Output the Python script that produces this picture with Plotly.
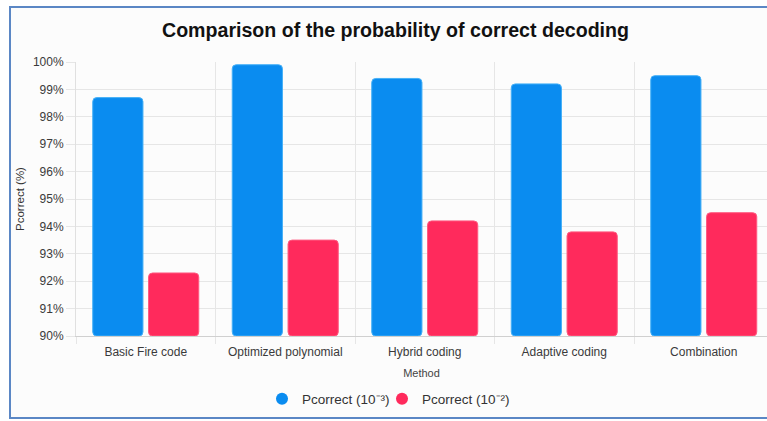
import plotly.graph_objects as go

methods = ["Basic Fire code", "Optimized polynomial", "Hybrid coding", "Adaptive coding", "Combination"]
p_1e3 = [98.7, 99.9, 99.4, 99.2, 99.5]
p_1e2 = [92.3, 93.5, 94.2, 93.8, 94.5]
series_names = ["Pcorrect (10⁻³)", "Pcorrect (10⁻²)"]
y_ticks = [90, 91, 92, 93, 94, 95, 96, 97, 98, 99, 100]
y_tick_labels = [f"{v}%" for v in y_ticks]

blue = "#0a8cf0"
red = "#ff2a5c"
font_family = "Liberation Sans, Arial, sans-serif"

W, H = 767, 421
ml, mr, mt, mb = 76, 0, 62, 85
pw = W - ml - mr
ph = H - mt - mb
cat_w = 139.5  # pixel width of one category slot
x_hi = -0.5 + pw / cat_w  # the last slot runs past the right edge


def px_x(x):
    return (x - ml) / pw


def px_y(y):
    return (H - mb - y) / ph


fig = go.Figure()
fig.add_trace(go.Bar(
    x=methods, y=[v - 90 for v in p_1e3], base=90, name=series_names[0],
    marker=dict(color=blue, line=dict(color="#45b0f7", width=1), cornerradius=4),
    showlegend=False,
))
fig.add_trace(go.Bar(
    x=methods, y=[v - 90 for v in p_1e2], base=90, name=series_names[1],
    marker=dict(color=red, line=dict(color="#ff5a80", width=1), cornerradius=4),
    showlegend=False,
))
# circular legend markers, one small legend per series
for name, col, leg in zip(series_names, [blue, red], ["legend", "legend2"]):
    fig.add_trace(go.Scatter(
        x=[None], y=[None], mode="markers", name=name, legend=leg,
        marker=dict(symbol="circle", size=13, color=col),
    ))

legend_style = dict(
    orientation="h", xanchor="left", xref="paper",
    y=px_y(399), yanchor="middle",
    font=dict(size=13.5, color="#333", family=font_family),
    itemsizing="constant", itemwidth=30,
    bgcolor="rgba(0,0,0,0)",
)

fig.update_layout(
    width=W, height=H,
    margin=dict(l=ml, r=mr, t=mt, b=mb),
    paper_bgcolor="white",
    plot_bgcolor="rgba(0,0,0,0)",
    barmode="group", bargap=0.2, bargroupgap=0.1,
    font=dict(family=font_family, color="#444", size=12),
    title=dict(
        text="<b>Comparison of the probability of correct decoding</b>",
        x=px_x(395.5), xref="paper", xanchor="center",
        y=1 - 30.5 / H, yref="container", yanchor="middle",
        font=dict(size=19.6, color="#111", family=font_family),
    ),
    xaxis=dict(
        range=[-0.5, x_hi],
        tickson="boundaries", showgrid=True, gridcolor="#e6e6e6", gridwidth=1,
        ticks="outside", ticklen=7, tickcolor="#e6e6e6",
        ticklabelstandoff=5,
        showline=True, linecolor="#d0d0d0", linewidth=1,
        tickfont=dict(size=12, color="#3a3a3a"),
        title=dict(text="Method", font=dict(size=11, color="#444"), standoff=10),
    ),
    yaxis=dict(
        range=[90, 100], tickvals=y_ticks, ticktext=y_tick_labels,
        showgrid=True, gridcolor="#e6e6e6", gridwidth=1,
        ticks="outside", ticklen=9, tickcolor="#e6e6e6",
        showline=True, linecolor="#e0e0e0", linewidth=1,
        zeroline=False,
        tickfont=dict(size=12, color="#3a3a3a"),
        title=dict(text="Pcorrect (%)", font=dict(size=11.5, color="#333"), standoff=5),
    ),
    legend=dict(x=px_x(262), **legend_style),
    legend2=dict(x=px_x(382), **legend_style),
    shapes=[dict(
        type="rect", xref="paper", yref="paper",
        x0=px_x(10), x1=px_x(780), y0=px_y(418), y1=px_y(7),
        line=dict(color="#5b87c5", width=2), fillcolor="#fcfcfc", layer="below",
    )],
)

fig.write_html("out.html")
